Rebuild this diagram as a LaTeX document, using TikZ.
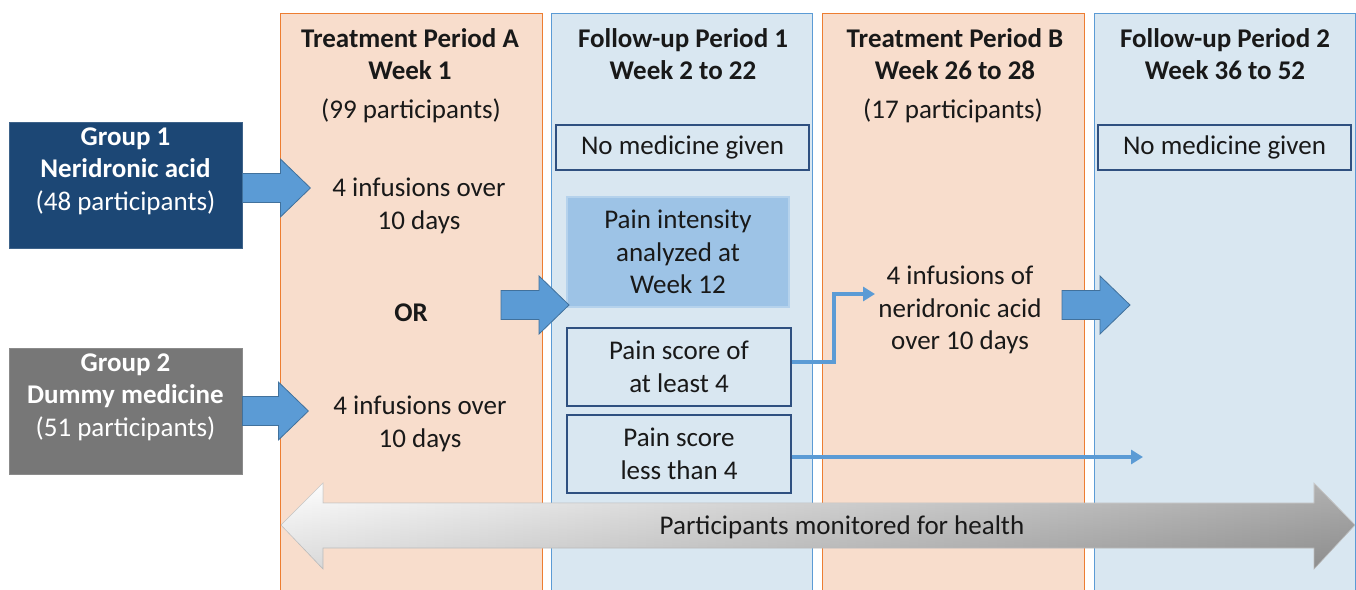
\documentclass[tikz,border=0pt]{standalone}
\usepackage{fontspec}
\setmainfont{Carlito}
\usetikzlibrary{arrows.meta}
\definecolor{orfill}{HTML}{F8DDCC}
\definecolor{orline}{HTML}{ED7D31}
\definecolor{blfill}{HTML}{D9E7F1}
\definecolor{blline}{HTML}{5B9BD5}
\definecolor{gonefill}{HTML}{1C4775}
\definecolor{gtwofill}{HTML}{777777}
\definecolor{arrfill}{HTML}{5B9BD5}
\definecolor{arrline}{HTML}{41719C}
\definecolor{painfill}{HTML}{9DC3E6}
\definecolor{boxline}{HTML}{2F5080}
\tikzset{
  txt/.style={font=\fontsize{27}{32.5}\selectfont, align=center, inner sep=0pt, text=black!90},
  btxt/.style={txt, font=\fontsize{27}{32.5}\selectfont\bfseries},
  colA/.style={draw=orline, fill=orfill, line width=1.2pt, minimum width=262pt, minimum height=620pt, anchor=north west, inner sep=0pt},
  colB/.style={draw=blline, fill=blfill, line width=1.2pt, minimum width=261pt, minimum height=620pt, anchor=north west, inner sep=0pt},
  grpbox/.style={minimum width=233pt, minimum height=126pt, inner sep=0pt},
  wbox/.style={txt, draw=boxline, line width=1.3pt, fill=blfill, minimum height=45pt},
  psbox/.style={txt, draw=boxline, line width=1.3pt, fill=blfill, minimum width=224pt, minimum height=78pt},
  barrow/.style={fill=arrfill, draw=arrline, line width=0.8pt},
  thin/.style={draw=arrfill, line width=4pt, -{Triangle[length=12pt,width=14pt]}},
  pics/blockarr/.style={code={
    \draw[barrow] (0,-14.5) -- (#1-30,-14.5) -- (#1-30,-29) -- (#1,0) -- (#1-30,29) -- (#1-30,14.5) -- (0,14.5) -- cycle;
  }}
}
\begin{document}
\begin{tikzpicture}[x=1pt,y=-1pt]
\useasboundingbox (0,0) rectangle (1356,589);
\fill[white] (0,0) rectangle (1356,589);
% columns
\node[colA] (cA) at (280,13) {};
\node[colB] (cF1) at (551,13) {};
\node[colA] (cB) at (822,13) {};
\node[colB] (cF2) at (1094,13) {};
% headings
\node[btxt] (hA) at (410,54) {Treatment Period A\\Week 1};
\node[txt] (pA) at (411,111) {(99 participants)};
\node[btxt] (hF1) at (683,54) {Follow-up Period 1\\Week 2 to 22};
\node[btxt] (hB) at (955,54) {Treatment Period B\\Week 26 to 28};
\node[txt] (pB) at (953,111) {(17 participants)};
\node[btxt] (hF2) at (1225,54) {Follow-up Period 2\\Week 36 to 52};
% group boxes
\node[grpbox, fill=gonefill, draw=gonefill!85!white, line width=0.8pt] (g1) at (125.5,185) {};
\node[txt, text=white] (g1t) at (125.5,171) {\bfseries Group 1\\\bfseries Neridronic acid\\(48 participants)};
\node[grpbox, fill=gtwofill, draw=gtwofill!85!white, line width=0.8pt] (g2) at (125.5,411) {};
\node[txt, text=white] (g2t) at (125.5,397) {\bfseries Group 2\\\bfseries Dummy medicine\\(51 participants)};
% treatment A texts
\node[txt] (iA1) at (419,206) {4 infusions over\\10 days};
\node[btxt] (orr) at (411,313) {OR};
\node[txt] (iA2) at (420,424) {4 infusions over\\10 days};
% follow-up 1 boxes
\node[wbox, minimum width=253pt] (nm1) at (682.5,147.5) {No medicine given};
\node[txt, fill=painfill, draw=painfill!75!white, line width=1.2pt, minimum width=222pt, minimum height=110pt] (pi) at (678,252) {Pain intensity\\analyzed at\\Week 12};
\node[psbox] (ps1) at (679,367) {Pain score of\\at least 4};
\node[psbox] (ps2) at (679,454) {Pain score\\less than 4};
% treatment B text
\node[txt] (iB) at (960,310) {4 infusions of\\neridronic acid\\over 10 days};
% follow-up 2 box
\node[wbox, minimum width=253pt] (nm2) at (1224.5,147.5) {No medicine given};
% block arrows
\pic at ([yshift=-3pt]g1.east) {blockarr=68};
\pic at (g2.east) {blockarr=66};
\pic at (501,305) {blockarr=68};
\pic at (1062,305) {blockarr=68};
% thin arrows
\coordinate (tB) at (875,294);
\coordinate (tF2) at (1143,457);
\draw[thin] ([yshift=5pt]ps1.east) -- ++(42,0) |- (tB);
\draw[thin] (ps2.east |- tF2) -- (tF2);
% monitoring double arrow
\path[left color=white, right color=black!48, draw=black!25, line width=0.6pt]
  (281,525) -- (323,483) -- (323,503) -- (1314,503) -- (1314,483) -- (1355,525)
  -- (1314,569) -- (1314,548) -- (323,548) -- (323,569) -- cycle;
\path[top color=white, bottom color=black!40, opacity=0.35]
  (281,525) -- (323,483) -- (323,503) -- (1314,503) -- (1314,483) -- (1355,525)
  -- (1314,569) -- (1314,548) -- (323,548) -- (323,569) -- cycle;
\node[txt] (mon) at (842,527) {Participants monitored for health};
\end{tikzpicture}
\end{document}
